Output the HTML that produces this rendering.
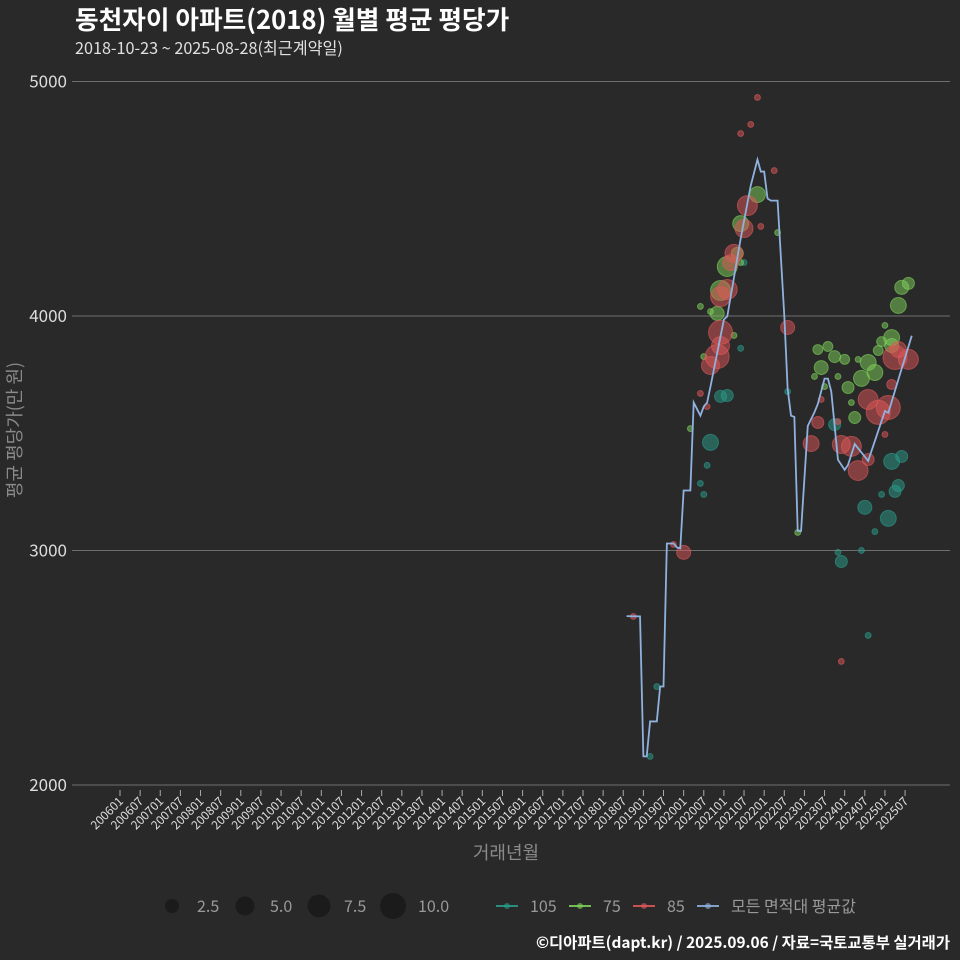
<!DOCTYPE html>
<html><head><meta charset="utf-8"><style>
html,body{margin:0;padding:0;background:#29292a;}
svg{display:block;font-family:"Noto Sans CJK KR","Liberation Sans",sans-serif;}
</style></head><body>
<svg id="c" width="960" height="960" viewBox="0 0 960 960">
<rect width="960" height="960" fill="#29292a"/>
<text x="75" y="29" font-size="25.7" font-weight="bold" fill="#ffffff">동천자이 아파트(2018) 월별 평균 평당가</text>
<text x="75" y="54" font-size="16.2" fill="#e0e0e0">2018-10-23 ~ 2025-08-28(최근계약일)</text>
<g id="grid"></g>
<g id="xaxis"></g>
<g id="marks"></g>
<text x="506" y="859" font-size="18" fill="#8a8a8a" text-anchor="middle">거래년월</text>
<text transform="translate(21,430) rotate(-90)" font-size="18" fill="#8a8a8a" text-anchor="middle">평균 평당가(만 원)</text>
<g id="legend"></g>
<text x="950" y="948" font-size="15.4" font-weight="bold" fill="#ffffff" text-anchor="end">©디아파트(dapt.kr) / 2025.09.06 / 자료=국토교통부 실거래가</text>
</svg>
<script>
// month index = months since 2006-01
const yTicks=[2000,3000,4000,5000];
const lineMonths=[151,155,156,157,158,160,161,162,163,165,166,167,168,170,171,173,174,175,176,180,181,185,188,190,191,192,193,194,196,198,199,200,201,202,203,205,207,208,210,211,212,214,216,217,219,223,226,228,229,232,236];
const lineValues=[2720,2719,2122,2122,2271,2271,2420,2420,3030,3030,3013,3009,3256,3256,3631,3575,3614,3631,3699,3985,3998,4330,4556,4667,4616,4616,4501,4492,4492,4002,3690,3575,3570,3083,3083,3531,3590,3625,3733,3733,3678,3387,3344,3365,3454,3382,3510,3595,3587,3729,3916];
const redMonths=[190,188,185,195,191,187,186,183,179,181,182,179,179,178,176,199,173,175,208,206,209,214,215,218,223,220,215,223,226,229,228,230,231,235,232,168,153,165];
const redValues=[4932,4817,4778,4620,4382,4471,4373,4267,4083,4113,4228,3930,3874,3827,3789,3951,3670,3614,3546,3456,3644,3550,3452,3444,3388,3341,2527,3644,3589,3610,3495,3708,3823,3815,3857,2992,2719,3026];
const redSizes=[.6,.6,.6,.6,.6,6.9,5.6,5.6,6.9,6.9,4.4,10,5.6,10,5.6,3.4,.6,.6,2.5,4.4,.6,.6,5.6,6.9,2.5,6.9,.6,6.9,10,10,.6,1.7,10,6.9,4.4,3.4,.6,.6];
const greenMonths=[190,185,184,185,181,179,173,178,176,183,174,196,208,211,213,216,209,220,223,225,221,217,207,214,230,230,227,226,228,232,233,235,219,218,210,170,202];
const greenValues=[4518,4394,4267,4228,4211,4109,4041,4011,4019,3917,3827,4356,3857,3870,3827,3815,3780,3815,3802,3759,3734,3695,3742,3742,3908,3874,3891,3853,3960,4045,4122,4139,3567,3631,3699,3520,3077];
const greenSizes=[4.4,4.4,2.5,.6,6.9,6.9,.6,3.4,.6,.6,.6,.6,1.7,1.7,2.5,1.7,3.4,.6,4.4,4.4,4.4,2.5,.6,.6,4.4,3.4,1.7,1.7,.6,4.4,3.4,2.5,2.5,.6,.6,.6,.6];
const tealMonths=[186,185,179,181,176,175,173,174,160,158,199,213,230,233,232,231,227,222,229,225,214,221,215,223];
const tealValues=[4228,3862,3657,3661,3461,3363,3286,3239,2420,2122,3678,3537,3380,3401,3277,3252,3239,3184,3137,3081,2992,3000,2953,2638];
const tealSizes=[.6,.6,2.5,2.5,4.4,.6,.6,.6,.6,.6,.6,2.5,4.4,2.5,2.5,2.5,.6,3.4,4.4,.6,.6,.6,2.5,.6];
const sizeLegend=[2.5,5.0,7.5,10.0];

const NS="http://www.w3.org/2000/svg";
const X=m=>120+m*3.355;
const Y=v=>785-(v-2000)*0.2345;
const R=s=>12*Math.sqrt(s/10);
function mk(tag,attrs,parent){const e=document.createElementNS(NS,tag);for(const k in attrs)e.setAttribute(k,attrs[k]);parent.appendChild(e);return e;}
const grid=document.getElementById('grid'),xa=document.getElementById('xaxis'),marks=document.getElementById('marks'),lg=document.getElementById('legend');
yTicks.forEach(v=>{
  const l=mk('line',{x1:72,x2:950,y1:Y(v),y2:Y(v),stroke:'#6e6e6e','stroke-width':1},grid);
  
  
  const t=mk('text',{x:67,y:Y(v)+6,'font-size':17,fill:'#dddddd','text-anchor':'end'},grid);
  t.textContent=v;
  
  
});
for(let m=0;m<=234;m+=6){
  const x=X(m);
  const tk=mk('line',{x1:x,x2:x,y1:790,y2:796,stroke:'#aaaaaa','stroke-width':1},xa);
  
  
  const lab=(2006+Math.floor(m/12))+String(m%12+1).padStart(2,'0');
  const t=mk('text',{transform:`translate(${x+4},${802}) rotate(-45)`,'font-size':12,fill:'#dddddd','text-anchor':'end'},xa);
  t.textContent=lab;
  
  
}
function bubbles(ms,vs,ss,col,name){
  ms.forEach((m,i)=>{
    const c=mk('circle',{cx:X(m),cy:Y(vs[i]),r:R(ss[i]),fill:col,'fill-opacity':0.5,stroke:col,'stroke-opacity':0.6},marks);
    
    
  });
}
bubbles(tealMonths,tealValues,tealSizes,'#2a9d8a','bubble-105');
bubbles(greenMonths,greenValues,greenSizes,'#7fd25a','bubble-75');
bubbles(redMonths,redValues,redSizes,'#e05858','bubble-85');
const pl=mk('polyline',{points:lineMonths.map((m,i)=>X(m)+','+Y(lineValues[i])).join(' '),fill:'none',stroke:'#8fb2de','stroke-width':1.8},marks);


// legend
const lx=[172,245,319,393];
sizeLegend.forEach((s,i)=>{
  const c=mk('circle',{cx:lx[i],cy:906,r:R(s)+1,fill:'#1b1b1b'},lg);
  
  
  const t=mk('text',{x:lx[i]+25,y:912,'font-size':16,fill:'#999999'},lg);
  t.textContent=s.toFixed(1);
  
  
});
const ents=[[496,'#2a9d8a','105'],[569,'#7fd25a','75'],[633,'#e05858','85'],[697,'#8fb2de','모든 면적대 평균값']];
ents.forEach(e=>{
  const l=mk('line',{x1:e[0],x2:e[0]+22,y1:906,y2:906,stroke:e[1],'stroke-width':1.8},lg);
  
  
  const c=mk('circle',{cx:e[0]+11,cy:906,r:3,fill:e[1],'fill-opacity':0.6},lg);
  
  
  const t=mk('text',{x:e[0]+34,y:912,'font-size':16,fill:'#999999'},lg);
  t.textContent=e[2];
  
  
});
</script>
</body></html>
